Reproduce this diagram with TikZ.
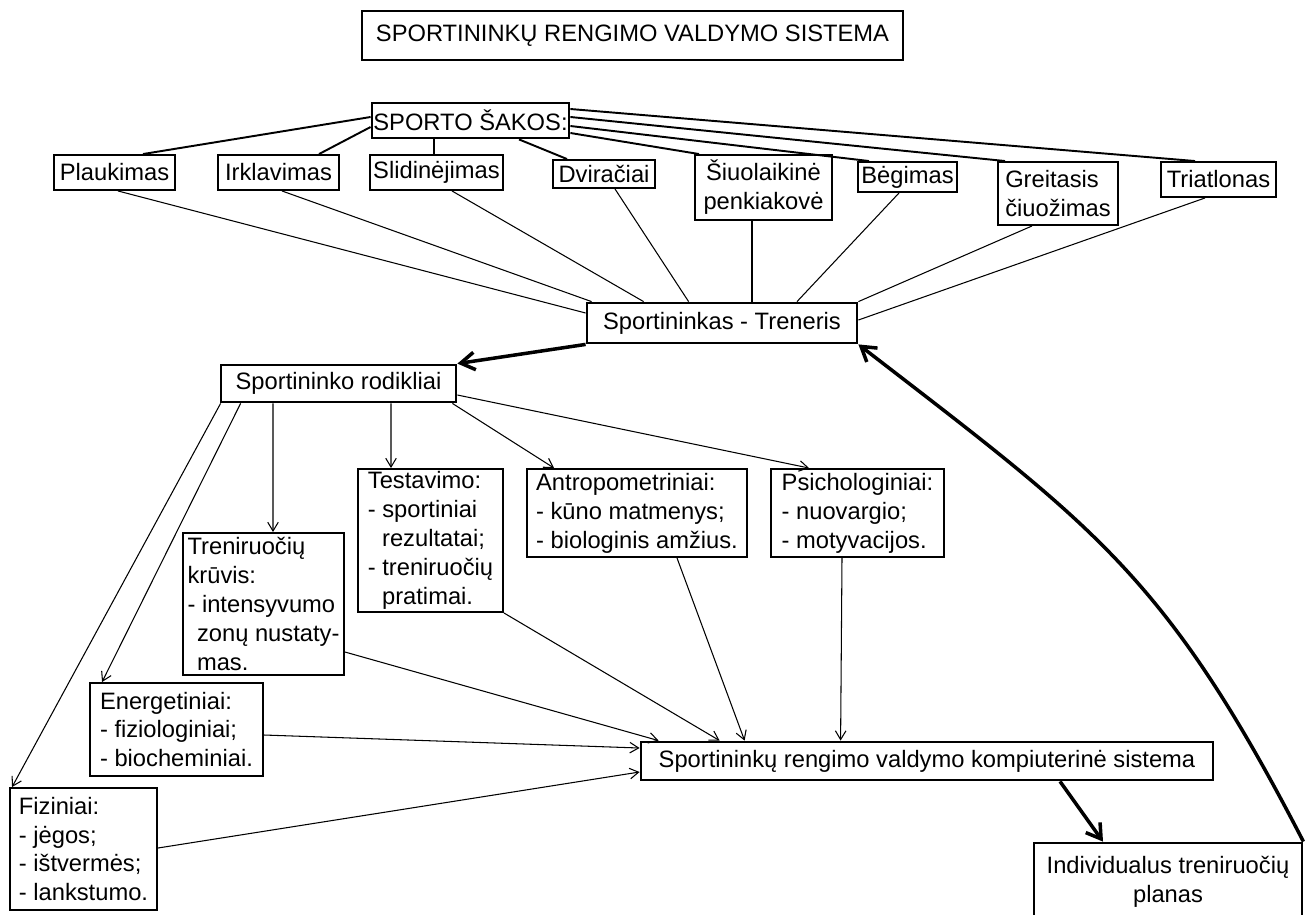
\documentclass[tikz,border=0pt]{standalone}
\usepackage{fontspec}
\setmainfont{Liberation Sans}
\usepackage{tikz}
\usetikzlibrary{positioning,arrows.meta,calc}
\newdimen\pix
\pix=0.02cm
\tikzset{
    box/.style = {
        draw,
        shape=rectangle,
        inner sep=0pt,
        line width=1.1pt,
        align=center,
        font=\fontsize{13.5}{16.5}\selectfont
    },
    listbox/.style = {
        box,
        align=left
    },
    dims/.style 2 args = {
        minimum width=#1\pix,
        minimum height=#2\pix
    },
    branch/.style = {
        draw,
        line width=1.1pt
    },
    feed/.style = {
        draw,
        line width=0.6pt
    },
    heavy/.style = {
        draw,
        line width=2pt,
        >={Straight Barb[length=8pt,width=10pt]}
    },
    >={Straight Barb[length=5pt,width=6pt]},
}

\begin{document}
\begin{tikzpicture}[x=0.02cm, y=-0.02cm]
    \useasboundingbox (0,0) rectangle (1315,914);
    \path[fill=white] (0,0) rectangle (1315,914);

    \node[box, line width=1.6pt, dims={541}{49}] (title) at (632.5,35.5) {SPORTININKŲ RENGIMO VALDYMO SISTEMA};

    \node[box, line width=1.6pt, dims={197}{35}] (sakos) at (470.5,120.5) {SPORTO ŠAKOS:};
    \node[box, dims={121}{35}] (plauk) at (114.5,172.5) {Plaukimas};
    \node[box, dims={121}{35}] (irkl) at (278.5,172.5) {Irklavimas};
    \node[box, dims={133}{35}] (slid) at (436.5,172.5) {Slidinėjimas};
    \node[box, dims={102}{28}] (dvir) at (604,174) {Dviračiai};
    \node[box, dims={137}{65}] (siuol) at (763.5,187.5) {Šiuolaikinė\\penkiakovė};
    \node[box, dims={99}{30}] (beg) at (907.5,177) {Bėgimas};
    \node[listbox, dims={120}{63}] (greit) at (1058,193.5) {Greitasis\\čiuožimas};
    \node[box, dims={115}{35}] (triat) at (1218.5,179.5) {Triatlonas};

    \node[box, line width=1.6pt, dims={270}{40}] (sptr) at (722,323) {Sportininkas - Treneris};
    \node[box, line width=1.6pt, dims={235}{37}] (rod) at (338.5,383.5) {Sportininko rodikliai};

    \node[listbox, dims={145}{143}] (test) at (430.5,540.5) {Testavimo:\\- sportiniai\\\hspace*{0.6em}rezultatai;\\- treniruočių\\\hspace*{0.6em}pratimai.};
    \node[listbox, dims={220}{88}] (antro) at (637,513) {Antropometriniai:\\- kūno matmenys;\\- biologinis amžius.};
    \node[listbox, dims={173}{88}] (psich) at (857.5,513) {Psichologiniai:\\- nuovargio;\\- motyvacijos.};
    \node[listbox, dims={161}{142}] (kruv) at (263.5,604) {Treniruočių\\krūvis:\\- intensyvumo\\\hspace*{0.4em}zonų nustaty-\\\hspace*{0.4em}mas.};
    \node[listbox, dims={173}{93}] (energ) at (176.5,729.5) {Energetiniai:\\- fiziologiniai;\\- biocheminiai.};
    \node[listbox, dims={147}{122}] (fiz) at (83.5,849) {Fiziniai:\\- jėgos;\\- ištvermės;\\- lankstumo.};

    \node[box, line width=1.6pt, dims={572}{38}] (sist) at (927,761) {Sportininkų rengimo valdymo kompiuterinė sistema};
    \node[box, line width=1.6pt, dims={268}{78}] (plan) at (1168,882) {Individualus treniruočių\\planas};

    % sporto sakos
    \path[branch] ([yshift=3.5\pix]sakos.west) -- ([xshift=28.5\pix]plauk.north);
    \path[branch] ([yshift=-6.5\pix]sakos.west) -- ([xshift=40.5\pix]irkl.north);
    \path[branch] ([xshift=-36.5\pix]sakos.south) -- ([xshift=-2.5\pix]slid.north);
    \path[branch] ([xshift=48.5\pix]sakos.south) -- ([xshift=-37\pix]dvir.north);
    \path[branch] ([yshift=-12.5\pix]sakos.east) -- ([xshift=5\pix]siuol.north west);
    \path[branch] ([yshift=-5.5\pix]sakos.east) -- ([xshift=12\pix]beg.north west);
    \path[branch] ([yshift=3.5\pix]sakos.east) -- ([xshift=8\pix]greit.north west);
    \path[branch] ([yshift=11.5\pix]sakos.east) -- ([xshift=35\pix]triat.north west);

    \path[feed] ([xshift=3.5\pix]plauk.south) -- ([yshift=10\pix]sptr.west);
    \path[feed] ([xshift=3.5\pix]irkl.south) -- ([xshift=6\pix]sptr.north west);
    \path[feed] ([xshift=15.5\pix]slid.south) -- ([xshift=58\pix]sptr.north west);
    \path[feed] ([xshift=11\pix]dvir.south) -- ([xshift=103\pix]sptr.north west);
    \path[feed] ([xshift=-11.5\pix]siuol.south) -- ([xshift=30\pix]sptr.north);
    \path[feed] ([xshift=-8.5\pix]beg.south) -- ([xshift=75\pix]sptr.north);
    \path[feed] ([xshift=-26\pix]greit.south) -- (sptr.north east);
    \path[feed] ([xshift=-13.5\pix]triat.south) -- ([yshift=3\pix]sptr.east);

    % rodikliai
    \path[heavy, ->] (sptr.south west) -- (rod.north east);
    \path[feed, ->] ([xshift=-65.5\pix]rod.south) -- ([xshift=9.5\pix]kruv.north);
    \path[feed, ->] ([xshift=52.5\pix]rod.south) -- ([xshift=-39.5\pix]test.north);
    \path[feed, ->] ([xshift=-5\pix]rod.south east) -- ([xshift=28\pix]antro.north west);
    \path[feed, ->] ([yshift=-11.5\pix]rod.east) -- ([xshift=39\pix]psich.north west);
    \path[feed, ->] ([xshift=21\pix]rod.south west) -- ([xshift=13\pix]energ.north west);
    \path[feed, ->] ([xshift=1\pix]rod.south west) -- ([xshift=3\pix]fiz.north west);

    % i sistema
    \path[feed, ->] ([yshift=-48\pix]kruv.east) -- ([xshift=19\pix]sist.north west);
    \path[feed, ->] (test.south east) -- ([xshift=80\pix]sist.north west);
    \path[feed, ->] ([xshift=40\pix]antro.south) -- ([xshift=105\pix]sist.north west);
    \path[feed, ->] ([xshift=-15.5\pix]psich.south) -- ([xshift=201\pix]sist.north west);
    \path[feed, ->] ([yshift=-5.5\pix]energ.east) -- ([yshift=13\pix]sist.west);
    \path[feed, ->] ([yshift=1\pix]fiz.east) -- ([yshift=-11\pix]sist.west);

    \path[heavy, ->] ([xshift=133\pix]sist.south) -- ([xshift=-65\pix]plan.north);
    \path[heavy, ->] (plan.north east) .. controls +(-138,-267) and +(237,183) .. (sptr.south east);
\end{tikzpicture}
\end{document}
